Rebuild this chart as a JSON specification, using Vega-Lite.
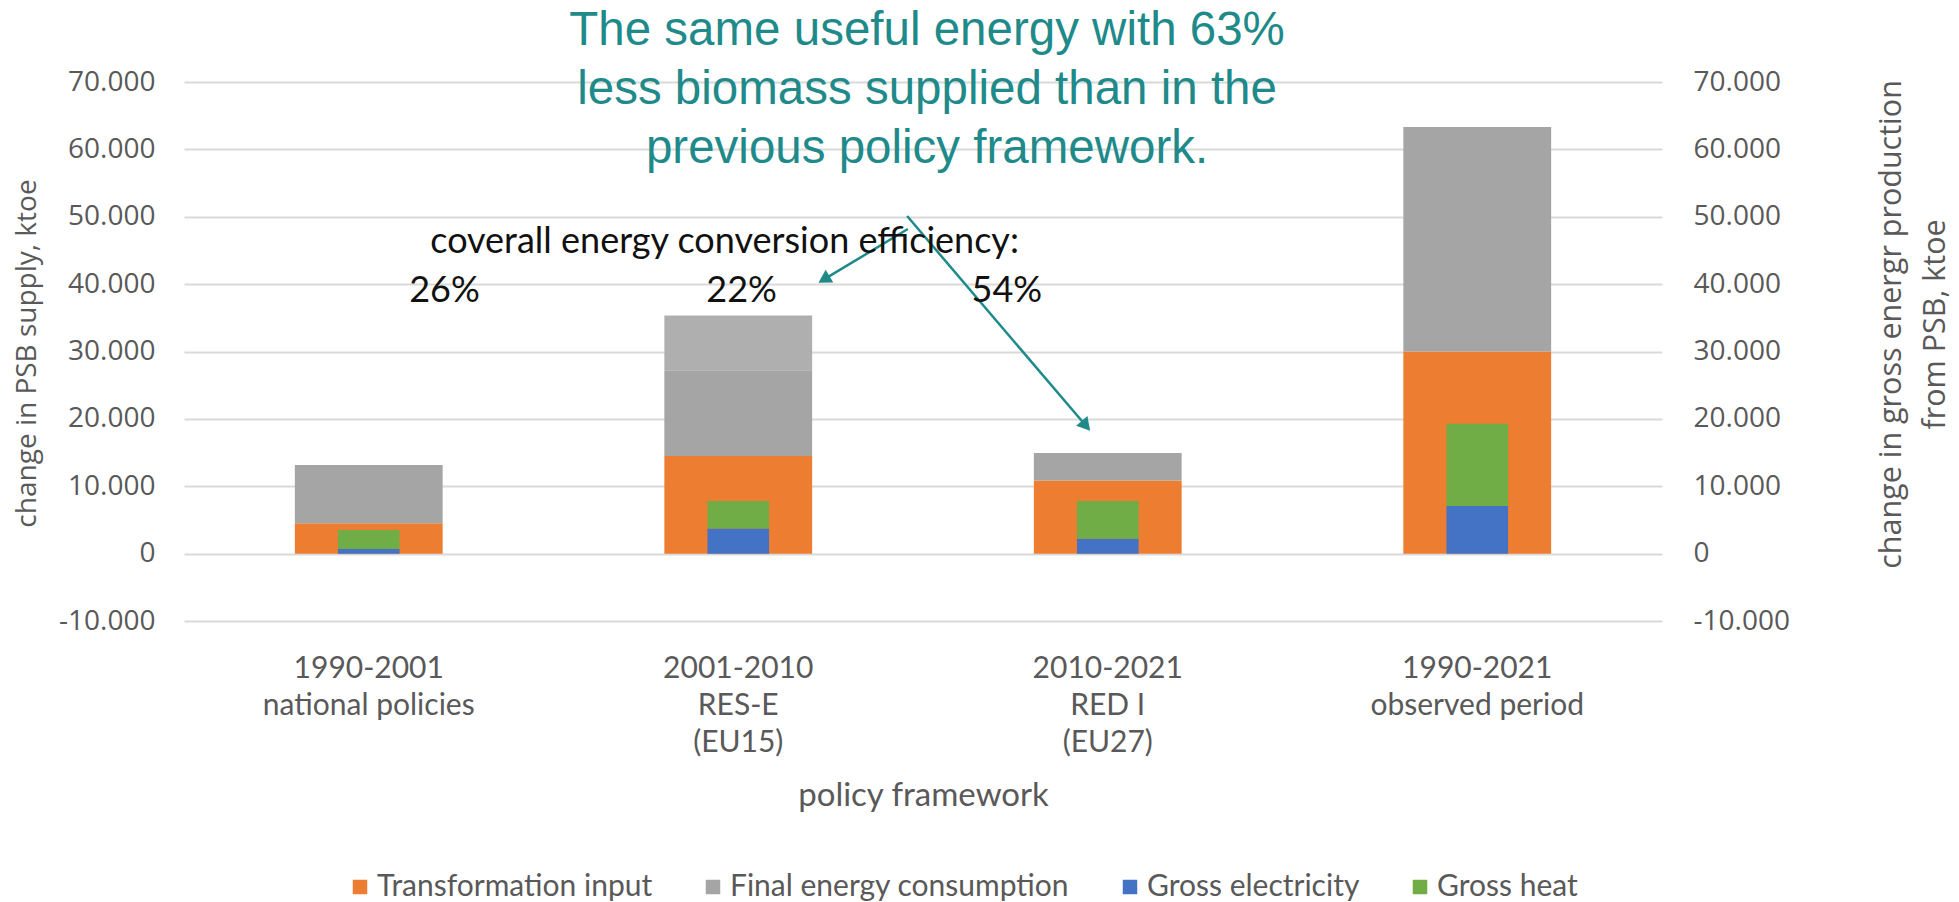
{
  "$schema": "https://vega.github.io/schema/vega-lite/v6.json",
  "width": 1478,
  "height": 539,
  "autosize": {"type": "none"},
  "padding": {"left": 184, "top": 82, "right": 297, "bottom": 281},
  "background": "white",
  "config": {
    "view": {"stroke": null},
    "axis": {"labelColor": "#595959", "titleColor": "#595959", "titleFontWeight": "normal"}
  },
  "datasets": {
    "supply": [
      {"period": "1990-2001\nnational policies", "series": "Transformation input", "ktoe": 4490},
      {"period": "1990-2001\nnational policies", "series": "Final energy consumption", "ktoe": 8660},
      {"period": "2001-2010\nRES-E\n(EU15)", "series": "Transformation input", "ktoe": 14490},
      {"period": "2001-2010\nRES-E\n(EU15)", "series": "Final energy consumption", "ktoe": 12730},
      {"period": "2001-2010\nRES-E\n(EU15)", "series": "Additional final energy consumption", "ktoe": 8110},
      {"period": "2010-2021\nRED I\n(EU27)", "series": "Transformation input", "ktoe": 10870},
      {"period": "2010-2021\nRED I\n(EU27)", "series": "Final energy consumption", "ktoe": 4060},
      {"period": "1990-2021\nobserved period", "series": "Transformation input", "ktoe": 30000},
      {"period": "1990-2021\nobserved period", "series": "Final energy consumption", "ktoe": 33330}
    ],
    "production": [
      {"period": "1990-2001\nnational policies", "series": "Gross electricity", "ktoe": 670},
      {"period": "1990-2001\nnational policies", "series": "Gross heat", "ktoe": 2820},
      {"period": "2001-2010\nRES-E\n(EU15)", "series": "Gross electricity", "ktoe": 3740},
      {"period": "2001-2010\nRES-E\n(EU15)", "series": "Gross heat", "ktoe": 4060},
      {"period": "2010-2021\nRED I\n(EU27)", "series": "Gross electricity", "ktoe": 2200},
      {"period": "2010-2021\nRED I\n(EU27)", "series": "Gross heat", "ktoe": 5600},
      {"period": "1990-2021\nobserved period", "series": "Gross electricity", "ktoe": 7060},
      {"period": "1990-2021\nobserved period", "series": "Gross heat", "ktoe": 12230}
    ],
    "percent": [
      {"note": "26%", "pos": 0.705, "val": 37370},
      {"note": "22%", "pos": 1.509, "val": 37370},
      {"note": "54%", "pos": 2.227, "val": 37370}
    ],
    "arrows": [
      {"arrow": "to 22%", "pos": 1.959, "val": 48180},
      {"arrow": "to 22%", "pos": 1.732, "val": 40700},
      {"arrow": "to RED I", "pos": 1.957, "val": 50110},
      {"arrow": "to RED I", "pos": 2.441, "val": 18980}
    ]
  },
  "resolve": {"scale": {"x": "independent", "y": "independent"}},
  "layer": [
    {
      "data": {"name": "supply"},
      "mark": {"type": "bar", "width": {"band": 0.4}},
      "encoding": {
        "x": {
          "field": "period", "type": "nominal", "sort": null,
          "scale": {"paddingInner": 0, "paddingOuter": 0},
          "axis": {
            "title": "policy framework",
            "labelExpr": "split(datum.value, '\\n')",
            "labelFont": "Lato", "labelFontSize": 30, "labelLineHeight": 37, "labelLimit": 0,
            "labelPadding": 32, "labelAngle": 0, "ticks": false, "domain": false, "grid": false,
            "titleFont": "Lato", "titleFontSize": 33, "titleBaseline": "alphabetic", "titleY": 184
          }
        },
        "y": {
          "field": "ktoe", "type": "quantitative", "stack": "zero",
          "scale": {"domain": [-10000, 70000], "nice": false, "zero": false},
          "axis": {
            "orient": "left",
            "values": [-10000, 0, 10000, 20000, 30000, 40000, 50000, 60000, 70000],
            "labelExpr": "datum.value == 0 ? '0' : replace(replace(replace(format(datum.value, ','), ',', '.'), '−', '-'), ',', '.')",
            "labelFont": "Open Sans", "labelFontSize": 28, "labelPadding": 29,
            "ticks": false, "domain": false, "grid": true, "gridColor": "#D9D9D9", "gridWidth": 2,
            "title": "change in PSB supply, ktoe",
            "titleFont": "Open Sans", "titleFontSize": 28, "titleAngle": -90,
            "titleBaseline": "middle", "titleX": -157, "titleY": 271
          }
        },
        "color": {
          "field": "series", "type": "nominal",
          "scale": {
            "domain": ["Transformation input", "Final energy consumption", "Additional final energy consumption", "Gross electricity", "Gross heat"],
            "range": ["#ED7D31", "#A5A5A5", "#AFAFAF", "#4472C4", "#70AD47"]
          },
          "legend": {
            "values": ["Transformation input", "Final energy consumption", "Gross electricity", "Gross heat"],
            "orient": "none", "legendX": 161, "legendY": 790,
            "direction": "horizontal", "columns": 4, "columnPadding": 45,
            "title": null, "symbolType": "square", "symbolSize": 210, "symbolStrokeWidth": 0,
            "labelFont": "Lato", "labelFontSize": 30, "labelColor": "#595959", "labelOffset": 2, "labelLimit": 0
          }
        },
        "order": {"field": "series", "sort": "descending"}
      }
    },
    {
      "data": {"name": "production"},
      "mark": {"type": "bar", "width": {"band": 0.1667}},
      "encoding": {
        "x": {
          "field": "period", "type": "nominal", "sort": null,
          "scale": {"paddingInner": 0, "paddingOuter": 0},
          "axis": null
        },
        "y": {
          "field": "ktoe", "type": "quantitative", "stack": "zero",
          "scale": {"domain": [-10000, 70000], "nice": false, "zero": false},
          "axis": {
            "orient": "right",
            "values": [-10000, 0, 10000, 20000, 30000, 40000, 50000, 60000, 70000],
            "labelExpr": "datum.value == 0 ? '0' : replace(replace(replace(format(datum.value, ','), ',', '.'), '−', '-'), ',', '.')",
            "labelFont": "Open Sans", "labelFontSize": 28, "labelPadding": 31,
            "ticks": false, "domain": false, "grid": false,
            "title": ["change in gross energr production", "from PSB, ktoe"],
            "titleFont": "Open Sans", "titleFontSize": 30.5, "titleAngle": -90, "titleLineHeight": 44,
            "titleBaseline": "middle", "titleX": 229, "titleY": 242
          }
        },
        "color": {
          "field": "series", "type": "nominal",
          "scale": {
            "domain": ["Transformation input", "Final energy consumption", "Additional final energy consumption", "Gross electricity", "Gross heat"],
            "range": ["#ED7D31", "#A5A5A5", "#AFAFAF", "#4472C4", "#70AD47"]
          }
        },
        "order": {"field": "series", "sort": "ascending"}
      }
    },
    {
      "data": {"name": "arrows"},
      "mark": {"type": "line", "color": "#1F8A8A", "strokeWidth": 2.5},
      "encoding": {
        "x": {"field": "pos", "type": "quantitative", "scale": {"domain": [0, 4], "nice": false, "zero": false}, "axis": null},
        "y": {"field": "val", "type": "quantitative", "scale": {"domain": [-10000, 70000], "nice": false, "zero": false}, "axis": null},
        "detail": {"field": "arrow"}
      }
    },
    {
      "data": {"values": [{"pos": 1.732, "val": 40700}]},
      "mark": {"type": "point", "shape": "triangle-up", "filled": true, "color": "#1F8A8A", "opacity": 1, "size": 220, "angle": 239},
      "encoding": {
        "x": {"field": "pos", "type": "quantitative", "scale": {"domain": [0, 4], "nice": false, "zero": false}, "axis": null},
        "y": {"field": "val", "type": "quantitative", "scale": {"domain": [-10000, 70000], "nice": false, "zero": false}, "axis": null}
      }
    },
    {
      "data": {"values": [{"pos": 2.441, "val": 18980}]},
      "mark": {"type": "point", "shape": "triangle-up", "filled": true, "color": "#1F8A8A", "opacity": 1, "size": 220, "angle": 139.6},
      "encoding": {
        "x": {"field": "pos", "type": "quantitative", "scale": {"domain": [0, 4], "nice": false, "zero": false}, "axis": null},
        "y": {"field": "val", "type": "quantitative", "scale": {"domain": [-10000, 70000], "nice": false, "zero": false}, "axis": null}
      }
    },
    {
      "data": {"name": "percent"},
      "mark": {"type": "text", "font": "Lato", "fontSize": 36, "color": "#111111", "align": "center", "baseline": "alphabetic"},
      "encoding": {
        "x": {"field": "pos", "type": "quantitative", "scale": {"domain": [0, 4], "nice": false, "zero": false}, "axis": null},
        "y": {"field": "val", "type": "quantitative", "scale": {"domain": [-10000, 70000], "nice": false, "zero": false}, "axis": null},
        "text": {"field": "note"}
      }
    },
    {
      "data": {"values": [{"note": "coverall energy conversion efficiency:", "pos": 1.463, "val": 44650}]},
      "mark": {"type": "text", "font": "Lato", "fontSize": 36, "color": "#111111", "align": "center", "baseline": "alphabetic"},
      "encoding": {
        "x": {"field": "pos", "type": "quantitative", "scale": {"domain": [0, 4], "nice": false, "zero": false}, "axis": null},
        "y": {"field": "val", "type": "quantitative", "scale": {"domain": [-10000, 70000], "nice": false, "zero": false}, "axis": null},
        "text": {"field": "note"}
      }
    },
    {
      "data": {"values": [{"note": "The same useful energy with 63%\nless biomass supplied than in the\nprevious policy framework.", "pos": 2.011, "val": 75490}]},
      "mark": {"type": "text", "font": "Liberation Sans", "fontSize": 47.5, "color": "#1F8A8A", "align": "center", "baseline": "alphabetic", "lineBreak": "\n", "lineHeight": 59},
      "encoding": {
        "x": {"field": "pos", "type": "quantitative", "scale": {"domain": [0, 4], "nice": false, "zero": false}, "axis": null},
        "y": {"field": "val", "type": "quantitative", "scale": {"domain": [-10000, 70000], "nice": false, "zero": false}, "axis": null},
        "text": {"field": "note"}
      }
    }
  ]
}
